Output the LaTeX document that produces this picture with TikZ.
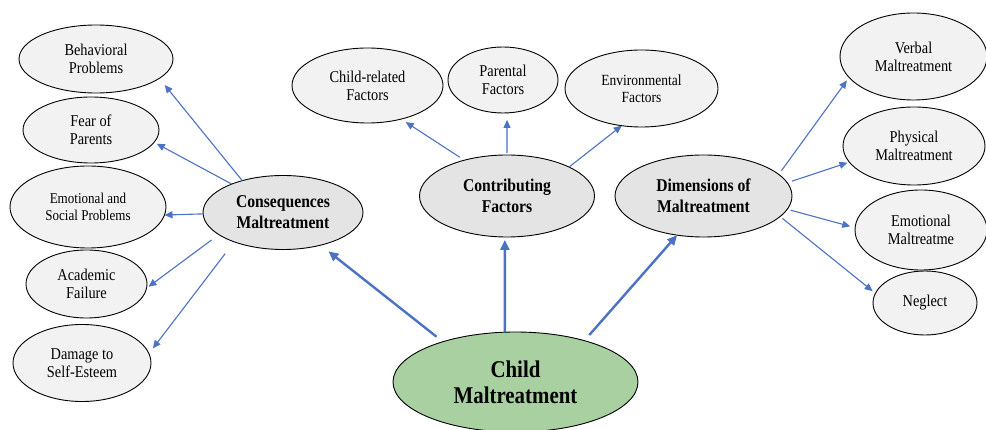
\documentclass[tikz,border=0pt]{standalone}
\usepackage{fontspec}
\setmainfont{Liberation Serif}
\newfontfamily\timesfam[FakeStretch=0.87]{Liberation Serif}
\usetikzlibrary{shapes.geometric,arrows.meta}
\definecolor{arrblue}{RGB}{76,114,196}
\definecolor{outerfill}{RGB}{242,242,242}
\definecolor{midfill}{RGB}{228,228,228}
\definecolor{greenfill}{RGB}{169,208,160}
\begin{document}
\begin{tikzpicture}[x=1pt,y=-1pt,
 outer/.style={ellipse,draw=black,line width=0.9pt,fill=outerfill,inner sep=0pt,outer sep=0pt,align=center,font=\timesfam\fontsize{16.5}{18}\selectfont},
 mid/.style={outer,fill=midfill,font=\timesfam\fontsize{18}{21}\selectfont\bfseries},
 central/.style={outer,fill=greenfill,font=\timesfam\fontsize{24}{26}\selectfont\bfseries},
 sz/.style 2 args={minimum width=#1pt,minimum height=#2pt},
 thinarr/.style={draw=arrblue,line width=1.1pt,-{Triangle[length=8pt,width=7pt]}},
 thickarr/.style={draw=arrblue,line width=2.4pt,-{Triangle[length=10pt,width=9pt]}},
]
\useasboundingbox (0,0) rectangle (986,430);
% left column
\node[outer,sz={154}{68}] (beh) at (96,59) {Behavioral\\Problems};
\node[outer,sz={136}{66}] (fear) at (91,130) {Fear of\\Parents};
\node[outer,sz={156}{82},font=\timesfam\fontsize{15}{17}\selectfont] (emo) at (88,207) {Emotional and\\Social Problems};
\node[outer,sz={121}{68}] (acad) at (86.5,284) {Academic\\Failure};
\node[outer,sz={138}{77}] (dmg) at (82,363) {Damage to\\Self-Esteem};
% top middle
\node[outer,sz={151}{75}] (childf) at (367.5,85.5) {Child-related\\Factors};
\node[outer,sz={110}{66}] (par) at (503,80) {Parental\\Factors};
\node[outer,sz={153}{77},font=\timesfam\fontsize{15.5}{17}\selectfont] (env) at (641.5,88.5) {Environmental\\Factors};
% right column
\node[outer,sz={147}{87}] (verb) at (913.5,56.5) {Verbal\\Maltreatment};
\node[outer,sz={142}{78}] (phys) at (914,146) {Physical\\Maltreatment};
\node[outer,sz={132}{80}] (emom) at (921,230) {Emotional\\Maltreatme};
\node[outer,sz={104}{64}] (negl) at (925,303) {Neglect};
% middle level
\node[mid,sz={160}{74}] (cons) at (283,212.5) {Consequences\\Maltreatment};
\node[mid,sz={175}{82}] (contrib) at (507,196) {Contributing\\Factors};
\node[mid,sz={177}{82}] (dims) at (703.5,196) {Dimensions of\\Maltreatment};
% central
\node[central,sz={245}{100}] (child) at (515.5,382) {Child\\Maltreatment};
% thick arrows
\draw[thickarr,shorten <=8pt,shorten >=10pt] (child.151.7) -- (cons.-41.9);
\draw[thickarr,shorten >=3pt] (child.102) -- (contrib.-93);
\draw[thickarr,shorten <=7.5pt] (child.31) -- (dims.-124);
% consequences
\draw[thinarr,shorten >=8.5pt] (cons.142) -- (beh.-17);
\draw[thinarr,shorten >=3pt] (cons.151) -- (fear.-11);
\draw[thinarr] (cons.181) -- (emo.-6);
\draw[thinarr,shorten <=9pt,shorten >=2.4pt] (cons.199) -- (acad.-4.5);
\draw[thinarr,shorten <=15pt,shorten >=6.5pt] (cons.211) -- (dmg.8.6);
% contributing
\draw[thinarr,shorten <=5.5pt,shorten >=5.5pt] (contrib.140) -- (childf.-45);
\draw[thinarr,shorten <=2pt,shorten >=7pt] (contrib.90) -- (par.-83);
\draw[thinarr] (contrib.25.8) -- (env.-118);
% dimensions
\draw[thinarr,shorten <=4.6pt,shorten >=3.7pt] (dims.16.1) -- (verb.-162.6);
\draw[thinarr,shorten <=5pt,shorten >=2pt] (dims.9) -- (phys.-166.6);
\draw[thinarr,shorten <=3.5pt,shorten >=5pt] (dims.-9.8) -- (emom.178);
\draw[thinarr,shorten <=3pt,shorten >=3.5pt] (dims.-15.7) -- (negl.169);
\end{tikzpicture}
\end{document}
